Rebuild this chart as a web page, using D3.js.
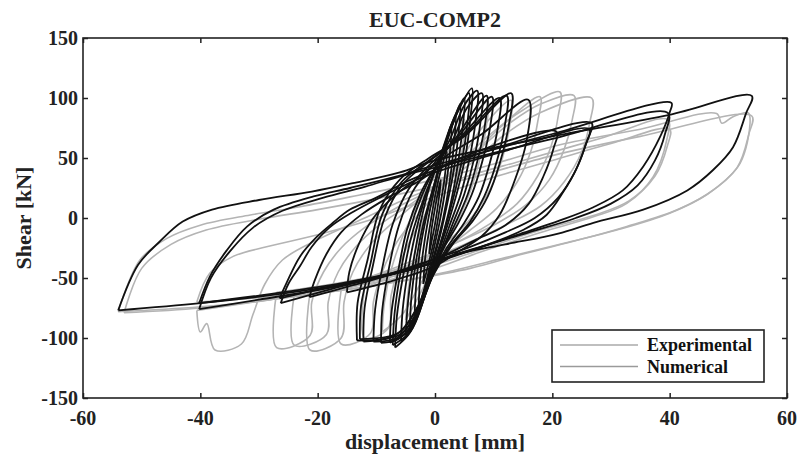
<!DOCTYPE html>
<html>
<head>
<meta charset="utf-8">
<script src="https://cdnjs.cloudflare.com/ajax/libs/d3/7.8.5/d3.min.js"></script>
<style>
    html, body { margin: 0; padding: 0; background: #fff; }
    svg { display: block; }
    .tick-label { font-family: "Liberation Serif", "DejaVu Serif", serif; font-weight: bold; font-size: 20px; fill: #222; }
    .axis-title { font-family: "Liberation Serif", "DejaVu Serif", serif; font-weight: bold; font-size: 22px; fill: #222; }
    .legend-text { font-family: "Liberation Serif", "DejaVu Serif", serif; font-weight: bold; font-size: 18px; fill: #111; }
</style>
</head>
<body>
<div id="chart"></div>
<script>
// EUC-COMP2 hysteresis: shear vs displacement

const xTicks = [-60, -40, -20, 0, 20, 40, 60];
const yTicks = [-150, -100, -50, 0, 50, 100, 150];
const seriesNames = ['Experimental', 'Numerical'];

// Experimental cycles, [displacement mm, shear kN]
const expA = [[-54,-78],[-50.3,-35],[-45.7,-17],[-40,-6],[-31.5,2.5],[-23,9.4],[-12,20],[0,32],[10,45],[21.3,61],[35,74],[48,87],[48.9,79],[50.8,84.4],[53.4,87.5],[53.7,79],[52,45.6],[47.4,23.3],[41.2,6.7],[32.7,-7],[24.7,-18],[15,-30],[6,-42],[-5,-52],[-20,-63],[-40,-74],[-54,-78]];
const expA2 = [[-53,-79],[-50,-42],[-45,-22],[-39,-10],[-30,-1],[-20,7],[-8,18],[5,32],[20,52],[35,68],[54,85],[53.5,70],[51.5,42],[46.5,20],[40,4],[31,-10],[22,-21],[12,-33],[2,-45],[-10,-56],[-25,-66],[-40,-75],[-53,-79]];
const expB = [[-40.6,-77],[-40,-95],[-38.9,-88],[-37.5,-110],[-33,-105],[-31,-80],[-29,-55],[-26,-35],[-20,-18],[-12,0],[-4,18],[5,34],[15,48],[28,66],[39.7,82],[39.5,65],[37.2,34.4],[32.7,12.2],[27,1],[18,-12],[8,-28],[-2,-45],[-15,-58],[-28,-68],[-40.6,-77]];
const expB2 = [[-40.6,-70],[-38.4,-46],[-34.4,-32],[-28.7,-24],[-20,-14],[-10,0],[0,18],[10,34],[20,48],[30,62],[40,74],[39.6,60],[37.5,35],[33,14],[27,2],[18,-10],[8,-26],[-2,-42],[-14,-56],[-27,-65],[-40.6,-70]];
const expC = [[-27,-62],[-27,-108],[-21.3,-98],[-21,-70],[-19,-45],[-16,-25],[-12,-8],[-6,10],[0,25],[6,45],[12,70],[18,88],[26.7,100],[26.4,80],[25,55],[22,30],[18,10],[12,-6],[5,-22],[-3,-38],[-12,-50],[-20,-57],[-27,-62]];
const expC2 = [[-24,-64],[-24,-106],[-18.5,-97],[-18.2,-70],[-16.5,-45],[-13.5,-24],[-9.5,-6],[-4,12],[1.5,32],[7,55],[13,80],[18,95],[23.7,102],[23.4,82],[22,57],[19.5,32],[15.5,11],[10,-6],[3,-22],[-5,-40],[-14,-53],[-24,-64]];
const expD = [[-21.3,-62],[-21.3,-110],[-16,-100],[-15.5,-70],[-14,-45],[-11,-22],[-7,-3],[-2,18],[3,40],[9,68],[15,90],[21.3,105],[21,85],[19.8,60],[17.5,35],[14,12],[9,-6],[3,-22],[-5,-38],[-13,-52],[-21.3,-62]];
const expE = [[-16,-60],[-16,-105],[-11,-96],[-10.5,-70],[-9,-45],[-6.5,-20],[-3,2],[1,25],[6,50],[11,75],[17.9,101],[17.5,80],[16.3,55],[14,30],[10.5,8],[6,-10],[1,-28],[-6,-45],[-16,-60]];
const expF = [[-12,-58],[-12,-100],[-8,-92],[-7.5,-65],[-6,-38],[-3.5,-12],[0,15],[4,45],[8,75],[13,98],[12.7,76],[11.5,50],[9.5,25],[6.5,2],[2.5,-18],[-3,-38],[-12,-58]];
const expG = [[-9,-95],[-8.6,-70],[-7.4,-42],[-5.5,-15],[-3,10],[0,35],[3.5,62],[9,97],[8.7,75],[7.6,48],[6,22],[3.8,-3],[1,-28],[-2.5,-55],[-5.5,-80],[-9,-95]];
const expH = [[-5,-85],[-4.5,-58],[-3.5,-30],[-2,-2],[0,25],[2,52],[5,82],[4.6,56],[3.6,28],[2.2,0],[0.5,-28],[-1.8,-56],[-5,-85]];

// Numerical cycles
const numA = [[-54,-77],[-50.6,-39],[-47,-20],[-43,-3],[-38,7],[-30,15],[-21,22],[-14,29],[-6,38],[0,48],[20,68],[40,86],[54,101.7],[53,87],[50.8,59],[47.4,40],[43,23],[35.5,7],[27,-4],[21,-13],[12,-22],[4,-30],[-4,-43],[-14.5,-54],[-26,-63],[-40,-71],[-54,-77]];
const numB = [[-40.2,-71],[-38.4,-49],[-35.5,-27],[-32,-7],[-27.5,7],[-20.7,18],[-14.5,25],[-7,34],[0,44],[20,70],[40.3,96],[40,88],[38.4,68],[35.5,43],[32,23],[27,9],[21.3,-2],[14,-14],[6,-27],[-4,-42],[-14.5,-53],[-26,-62],[-40.2,-71]];
const numB2 = [[-40.2,-76],[-38.2,-50],[-35,-28],[-31,-8],[-26,6],[-19,17],[-12,26],[-5,36],[0,42],[20,66],[39.7,87.5],[39.2,70],[37.5,48],[34.5,27],[30,12],[24,0],[16,-12],[8,-24],[0,-37],[-10,-50],[-20,-60],[-30,-68],[-40.2,-76]];
const numC = [[-26.5,-67],[-25.3,-54],[-23,-32],[-20.2,-16],[-17.4,-4],[-14.5,7],[-10,17],[-5,30],[0,40],[11,59],[26.7,79],[25.9,64],[24.1,41],[21.9,22],[19,2.5],[15,-10],[9,-22],[3,-31],[-4,-43],[-14,-53],[-26.5,-67]];
const numC2 = [[-26.3,-71],[-25,-55],[-23,-40],[-21,-24],[-18,-8],[-14,5],[-9,18],[-4,30],[0,38],[12,56],[26.3,74],[25.6,60],[23.8,38],[21,17],[17,0],[12,-12],[6,-24],[0,-34],[-8,-47],[-16,-57],[-26.3,-71]];
const numD = [[-21.4,-66],[-20.5,-52],[-18.5,-30],[-16,-12],[-12.5,3],[-8,17],[-3,30],[2,45],[20.7,72],[20.2,58],[18.5,35],[16,12],[12,-6],[7,-18],[2,-30],[-6,-45],[-14,-56],[-21.4,-66]];
const numE = [[-15,-62],[-14.6,-45],[-13,-22],[-10.5,0],[-7,18],[-3,33],[2,52],[8,70],[15.9,98.6],[15.6,64],[13.3,27.5],[11,2.5],[8,-15],[4,-28],[0,-40],[-7,-52],[-15,-62]];
const numF = [[-13.3,-102],[-13.2,-71],[-11.5,-35],[-9.4,7],[-6,32],[-1,50],[5,68],[13,104],[12.6,78],[11,45],[9,18],[6.5,-2],[3,-22],[0,-45],[-3,-75],[-6,-95],[-9,-101],[-13.3,-102]];
const numF2 = [[-12.8,-101],[-12.6,-73],[-11,-38],[-9,3],[-5.7,30],[-1,48],[4.5,67],[12.2,102],[11.9,77],[10.4,45],[8.4,18],[6,-3],[2.6,-23],[-0.2,-46],[-3.2,-76],[-6.3,-96],[-12.8,-101]];
const numG = [[-12.2,-103],[-12,-75],[-10.6,-40],[-8.6,0],[-5.5,28],[-1,47],[4,66],[11,100],[10.7,75],[9.3,45],[7.5,18],[5,-4],[2,-25],[-0.5,-48],[-3,-78],[-6,-97],[-12.2,-103]];
const numH = [[-10.5,-103],[-10.2,-76],[-9,-42],[-7.2,-5],[-4.5,24],[-1,44],[3,62],[9.7,101],[9.4,76],[8,46],[6.3,20],[4,-4],[1.5,-25],[-1,-52],[-3.5,-82],[-6.5,-100],[-10.5,-103]];
const numH2 = [[-9.2,-104],[-9,-77],[-7.9,-43],[-6.2,-7],[-3.8,22],[-0.6,43],[3,63],[8.8,102],[8.5,77],[7.2,47],[5.6,20],[3.5,-4],[1.2,-27],[-1.2,-56],[-3.6,-86],[-6.3,-101],[-9.2,-104]];
const numI = [[-7.7,-104],[-7.4,-78],[-6.3,-45],[-4.8,-10],[-2.5,20],[0,42],[3,65],[5.5,92],[8,104],[7.7,78],[6.6,48],[5,20],[3,-5],[1,-30],[-1.5,-62],[-4,-92],[-7.7,-104]];
const numQ = [[-7.2,-106],[-6.9,-80],[-5.9,-46],[-4.4,-12],[-2.3,18],[0,42],[2.6,66],[5,94],[7.2,106],[6.9,80],[5.9,50],[4.4,20],[2.5,-6],[0.5,-34],[-1.8,-66],[-4.1,-94],[-7.2,-106]];
const numJ = [[-6.8,-108],[-6.5,-82],[-5.5,-50],[-4,-15],[-2,15],[0,40],[2,65],[4,90],[6.3,108],[6,82],[5.2,52],[3.8,22],[2,-8],[0,-38],[-2,-68],[-4.2,-95],[-6.8,-108]];
const numP = [[-5.8,-103],[-5.5,-76],[-4.6,-44],[-3.2,-10],[-1.5,20],[0.5,46],[2.5,72],[4.6,96],[5.8,104],[5.5,78],[4.6,48],[3.2,18],[1.5,-12],[-0.5,-42],[-2.6,-72],[-4.4,-96],[-5.8,-103]];
const numK = [[-5,-98],[-4.6,-70],[-3.8,-40],[-2.5,-5],[-1,25],[0.8,50],[2.8,78],[5,100],[4.7,75],[3.9,45],[2.8,15],[1.3,-15],[-0.5,-45],[-2.5,-75],[-5,-98]];
const numN = [[-4.3,-92],[-4,-65],[-3.2,-35],[-2,-5],[-0.5,22],[1.2,50],[2.8,75],[4.3,95],[4,70],[3.2,40],[2,10],[0.6,-20],[-1.2,-50],[-2.8,-75],[-4.3,-92]];
const numL = [[-3.5,-84],[-3.2,-55],[-2.5,-25],[-1.3,5],[0,30],[1.5,58],[3.5,86],[3.2,60],[2.5,30],[1.4,0],[0,-28],[-1.6,-58],[-3.5,-84]];
const numO = [[-2.8,-75],[-2.5,-48],[-1.8,-20],[-0.8,8],[0.4,35],[1.6,58],[2.8,78],[2.5,52],[1.8,25],[0.8,-3],[-0.4,-30],[-1.6,-55],[-2.8,-75]];
const numM = [[-2,-55],[-1.6,-30],[-0.8,-5],[0,18],[1,40],[2,56],[1.6,32],[0.8,8],[0,-15],[-1,-36],[-2,-55]];
const numR = [[-1,-30],[-0.6,-10],[0,8],[0.6,24],[1,32],[0.6,14],[0,-5],[-0.6,-20],[-1,-30]];

const expLoops = [expA, expA2, expB, expB2, expC, expC2, expD, expE, expF, expG, expH];
const numLoops = [numA, numB, numB2, numC, numC2, numD, numE, numF, numF2, numG, numH, numH2,
    numI, numQ, numJ, numP, numK, numN, numL, numO, numM, numR];

const width = 798, height = 459;
const margin = { left: 83, right: 11, top: 38, bottom: 61 };

const svg = d3.select('#chart').append('svg')
    .attr('width', width)
    .attr('height', height);

const x = d3.scaleLinear().domain([-60, 60]).range([margin.left, width - margin.right]);
const y = d3.scaleLinear().domain([-150, 150]).range([height - margin.bottom, margin.top]);

// clip to plot area
svg.append('clipPath').attr('id', 'plot-clip')
    .append('rect')
    .attr('x', x(-60)).attr('y', y(150))
    .attr('width', x(60) - x(-60)).attr('height', y(-150) - y(150));

const line = d3.line()
    .x(d => x(d[0]))
    .y(d => y(d[1]))
    .curve(d3.curveCatmullRom.alpha(0.5));

const plot = svg.append('g').attr('clip-path', 'url(#plot-clip)');

// Experimental (gray) underneath
plot.selectAll('path.exp')
    .data(expLoops)
    .enter()
    .append('path')
    .attr('class', 'exp')
    .attr('d', line)
    .attr('fill', 'none')
    .attr('stroke', '#b4b4b4')
    .attr('stroke-width', 1.6)
    .attr('stroke-linejoin', 'round');

// Numerical (black) on top
plot.selectAll('path.num')
    .data(numLoops)
    .enter()
    .append('path')
    .attr('class', 'num')
    .attr('d', line)
    .attr('fill', 'none')
    .attr('stroke', '#111')
    .attr('stroke-width', 1.8)
    .attr('stroke-linejoin', 'round');

// Axes: ticks inward, mirrored on all four sides
const tickLen = 5;
const bottomAxis = d3.axisBottom(x).tickValues(xTicks).tickSize(-tickLen).tickFormat('');
const topAxis = d3.axisTop(x).tickValues(xTicks).tickSize(-tickLen).tickFormat('');
const leftAxis = d3.axisLeft(y).tickValues(yTicks).tickSize(-tickLen).tickFormat('');
const rightAxis = d3.axisRight(y).tickValues(yTicks).tickSize(-tickLen).tickFormat('');

function styleAxis(g) {
    g.select('.domain').remove();
    g.selectAll('.tick line').attr('stroke', '#222').attr('stroke-width', 1.5);
}

svg.append('g').attr('transform', `translate(0,${y(-150)})`).call(bottomAxis).call(styleAxis);
svg.append('g').attr('transform', `translate(0,${y(150)})`).call(topAxis).call(styleAxis);
svg.append('g').attr('transform', `translate(${x(-60)},0)`).call(leftAxis).call(styleAxis);
svg.append('g').attr('transform', `translate(${x(60)},0)`).call(rightAxis).call(styleAxis);

// Frame
svg.append('rect')
    .attr('x', x(-60)).attr('y', y(150))
    .attr('width', x(60) - x(-60)).attr('height', y(-150) - y(150))
    .attr('fill', 'none')
    .attr('stroke', '#222')
    .attr('stroke-width', 1.6);

// Tick labels
svg.selectAll('text.xtick')
    .data(xTicks)
    .enter()
    .append('text')
    .attr('class', 'tick-label')
    .attr('x', d => x(d))
    .attr('y', y(-150) + 27)
    .attr('text-anchor', 'middle')
    .text(d => d);

svg.selectAll('text.ytick')
    .data(yTicks)
    .enter()
    .append('text')
    .attr('class', 'tick-label')
    .attr('x', x(-60) - 5)
    .attr('y', d => y(d) + 7)
    .attr('text-anchor', 'end')
    .text(d => d);

// Title and axis titles
svg.append('text')
    .attr('class', 'axis-title')
    .attr('x', x(0))
    .attr('y', 27)
    .attr('text-anchor', 'middle')
    .text('EUC-COMP2');

svg.append('text')
    .attr('class', 'axis-title')
    .attr('x', x(0))
    .attr('y', 449)
    .attr('text-anchor', 'middle')
    .text('displacement [mm]');

svg.append('text')
    .attr('class', 'axis-title')
    .attr('transform', `translate(31,${y(0)}) rotate(-90)`)
    .attr('text-anchor', 'middle')
    .text('Shear [kN]');

// Legend
const legend = svg.append('g').attr('transform', 'translate(552,330)');
legend.append('rect')
    .attr('width', 212).attr('height', 52)
    .attr('fill', '#fff')
    .attr('stroke', '#222')
    .attr('stroke-width', 1.6);

const legendColors = ['#aaaaaa', '#9a9a9a'];
seriesNames.forEach((name, i) => {
    const ly = 15 + i * 21.5;
    legend.append('line')
        .attr('x1', 8).attr('x2', 86)
        .attr('y1', ly).attr('y2', ly)
        .attr('stroke', legendColors[i])
        .attr('stroke-width', 1.5);
    legend.append('text')
        .attr('class', 'legend-text')
        .attr('x', 95)
        .attr('y', ly + 6)
        .text(name);
});
</script>
</body>
</html>
